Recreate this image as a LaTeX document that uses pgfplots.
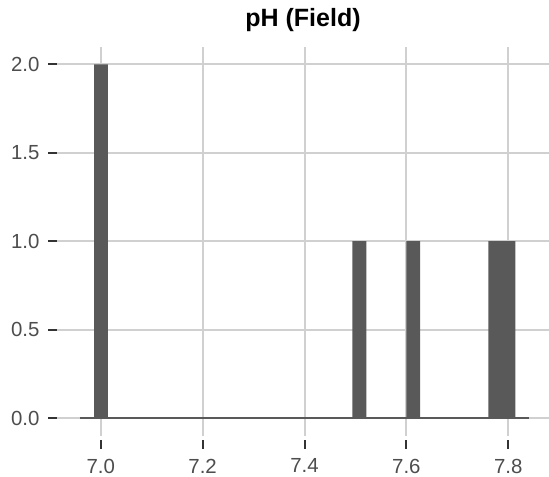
\documentclass[border=0pt]{standalone}
\usepackage{pgfplots}
\pgfplotsset{compat=1.18}
\usepackage{fontspec}
\setmainfont{Liberation Sans}
\definecolor{barfill}{HTML}{595959}
\definecolor{gridc}{HTML}{D0D0D0}
\definecolor{ticklab}{HTML}{4D4D4D}
\definecolor{tickc}{HTML}{333333}
\begin{document}
\begin{tikzpicture}
\begin{axis}[
  at={(0,0)}, anchor=south west,
  scale only axis,
  width=245.75pt, height=194.55pt,
  xmin=6.915, xmax=7.880,
  ymin=-0.1, ymax=2.1,
  xtick={7.0,7.2,7.4,7.6,7.8},
  ytick={0,0.5,1,1.5,2},
  xticklabels={7.0,7.2,7.4,7.6,7.8},
  yticklabels={0.0,0.5,1.0,1.5,2.0},
  axis line style={draw=none},
  xtick pos=bottom, ytick pos=left,
  tick align=outside,
  major tick length=4.5pt,
  major tick style={tickc, line width=1pt},
  xtick style={yshift=-2pt},
  grid=major,
  major grid style={gridc, line width=1pt},
  tick label style={font=\fontsize{10.2}{12}\selectfont, text=ticklab},
  xticklabel style={yshift=-3.5pt},
  yticklabel style={xshift=-1pt},
  clip=false,
]
\addplot[ybar interval, fill=barfill, draw=none] coordinates {
  (6.959,0) (6.987,2) (7.014,0) (7.4937,1) (7.5212,0) (7.5998,1) (7.627,0) (7.761,1) (7.814,0) (7.841,0)
};
\addplot[barfill, line width=0.6pt] coordinates {(6.959,0) (7.841,0)};
\end{axis}
\node[font=\bfseries\fontsize{12.5}{14}\selectfont] at (122.75pt,207.85pt) {pH (Field)};
\pgfresetboundingbox
\useasboundingbox (-28.75pt,-20.15pt) rectangle (245.75pt,217.85pt);
\end{tikzpicture}
\end{document}
